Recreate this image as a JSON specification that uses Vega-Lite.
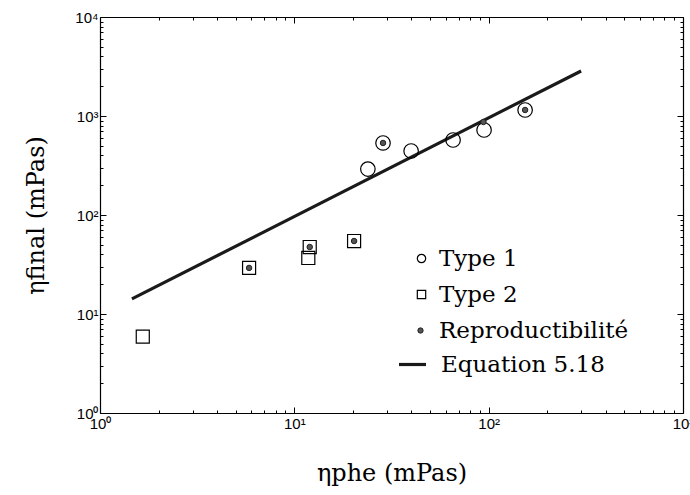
{
  "$schema": "https://vega.github.io/schema/vega-lite/v6.json",
  "width": 583,
  "height": 396,
  "autosize": "none",
  "padding": {"left": 100, "top": 17, "right": 7, "bottom": 82},
  "background": "white",
  "config": {
    "view": {"stroke": null},
    "axis": {
      "grid": false,
      "domainColor": "black",
      "domainWidth": 1.2,
      "tickColor": "black",
      "tickWidth": 1,
      "labelFont": "Liberation Sans",
      "labelFontSize": 15,
      "labelColor": "black",
      "labelOverlap": false,
      "labelFlush": false,
      "titleFont": "DejaVu Serif",
      "titleFontSize": 24,
      "titleFontWeight": "normal",
      "titleColor": "black"
    },
    "legend": {
      "orient": "none",
      "padding": 0,
      "labelFont": "DejaVu Serif",
      "labelFontSize": 23,
      "labelColor": "black",
      "labelLimit": 400,
      "title": null
    }
  },
  "datasets": {
    "pts": [
      {"serie": "Type 1", "phe": 23.9, "final": 291},
      {"serie": "Type 1", "phe": 28.6, "final": 534},
      {"serie": "Type 1", "phe": 39.9, "final": 443},
      {"serie": "Type 1", "phe": 65.6, "final": 572},
      {"serie": "Type 1", "phe": 94.7, "final": 722},
      {"serie": "Type 1", "phe": 154, "final": 1150},
      {"serie": "Type 2", "phe": 1.66, "final": 5.9},
      {"serie": "Type 2", "phe": 5.85, "final": 29.2},
      {"serie": "Type 2", "phe": 11.8, "final": 36.8},
      {"serie": "Type 2", "phe": 12.0, "final": 47.5},
      {"serie": "Type 2", "phe": 20.3, "final": 54.6},
      {"serie": "Reproductibilité", "phe": 28.6, "final": 534},
      {"serie": "Reproductibilité", "phe": 154, "final": 1150},
      {"serie": "Reproductibilité", "phe": 5.85, "final": 29.2},
      {"serie": "Reproductibilité", "phe": 12.0, "final": 47.5},
      {"serie": "Reproductibilité", "phe": 20.3, "final": 54.6},
      {"serie": "Reproductibilité", "phe": 94, "final": 870}
    ],
    "eq": [
      {"serie": "Equation 5.18", "phe": 1.46, "final": 14.2},
      {"serie": "Equation 5.18", "phe": 299, "final": 2850}
    ]
  },
  "resolve": {"axis": {"x": "independent", "y": "independent"}},
  "layer": [
    {
      "data": {"name": "eq"},
      "mark": {"type": "line", "strokeWidth": 3.2},
      "encoding": {
        "x": {
          "field": "phe", "type": "quantitative",
          "scale": {"type": "log", "domain": [1, 1000], "nice": false},
          "axis": {
            "orient": "bottom",
            "title": "ηphe (mPas)",
            "titlePadding": 27,
            "values": [1,2,3,4,5,6,7,8,9,10,20,30,40,50,60,70,80,90,100,200,300,400,500,600,700,800,900,1000],
            "labelExpr": "datum.value==1?'10⁰':datum.value==10?'10¹':datum.value==100?'10²':datum.value==1000?'10³':''",
            "labelFontSize": 15,
            "tickSize": {"condition": {"test": "datum.value==1||datum.value==10||datum.value==100||datum.value==1000", "value": -6}, "value": -3},
            "labelPadding": 9
          }
        },
        "y": {
          "field": "final", "type": "quantitative",
          "scale": {"type": "log", "domain": [1, 10000], "nice": false},
          "axis": {
            "orient": "left",
            "title": "ηfinal (mPas)",
            "titlePadding": 26,
            "values": [1,2,3,4,5,6,7,8,9,10,20,30,40,50,60,70,80,90,100,200,300,400,500,600,700,800,900,1000,2000,3000,4000,5000,6000,7000,8000,9000,10000],
            "labelExpr": "datum.value==1?'10⁰':datum.value==10?'10¹':datum.value==100?'10²':datum.value==1000?'10³':datum.value==10000?'10⁴':''",
            "labelFontSize": 15,
            "tickSize": {"condition": {"test": "datum.value==1||datum.value==10||datum.value==100||datum.value==1000||datum.value==10000", "value": -6}, "value": -3},
            "labelPadding": 8
          }
        },
        "stroke": {
          "field": "serie", "type": "nominal",
          "scale": {"domain": ["Equation 5.18"], "range": ["#1a1a1a"]},
          "legend": {
            "title": null,
            "legendX": 297,
            "legendY": 332,
            "symbolType": "stroke",
            "symbolSize": 729,
            "symbolStrokeWidth": 3.2,
            "labelOffset": 13
          }
        }
      }
    },
    {
      "data": {"name": "pts"},
      "transform": [{"filter": "datum.serie==='Type 1' || datum.serie==='Type 2'"}],
      "mark": {"type": "point", "filled": false, "stroke": "black", "strokeWidth": 1.2, "opacity": 1},
      "encoding": {
        "x": {
          "field": "phe", "type": "quantitative",
          "scale": {"type": "log", "domain": [1, 1000], "nice": false},
          "axis": {
            "orient": "top", "title": null, "labels": false,
            "values": [1,2,3,4,5,6,7,8,9,10,20,30,40,50,60,70,80,90,100,200,300,400,500,600,700,800,900,1000],
            "tickSize": {"condition": {"test": "datum.value==1||datum.value==10||datum.value==100||datum.value==1000", "value": -6}, "value": -3}
          }
        },
        "y": {
          "field": "final", "type": "quantitative",
          "scale": {"type": "log", "domain": [1, 10000], "nice": false},
          "axis": {
            "orient": "right", "title": null, "labels": false,
            "values": [1,2,3,4,5,6,7,8,9,10,20,30,40,50,60,70,80,90,100,200,300,400,500,600,700,800,900,1000,2000,3000,4000,5000,6000,7000,8000,9000,10000],
            "tickSize": {"condition": {"test": "datum.value==1||datum.value==10||datum.value==100||datum.value==1000||datum.value==10000", "value": -6}, "value": -3}
          }
        },
        "size": {"condition": {"test": "datum.serie==='Type 1'", "value": 210}, "value": 170},
        "shape": {
          "field": "serie", "type": "nominal",
          "scale": {"domain": ["Type 1", "Type 2"], "range": ["circle", "square"]},
          "legend": {
            "title": null,
            "legendX": 310,
            "legendY": 230,
            "symbolSize": 70,
            "symbolStrokeWidth": 1.2,
            "symbolStrokeColor": "black",
            "labelOffset": 6,
            "rowPadding": 12
          }
        }
      }
    },
    {
      "data": {"name": "pts"},
      "transform": [{"filter": "datum.serie==='Reproductibilité'"}],
      "mark": {"type": "point", "filled": true, "size": 30, "stroke": "#222", "strokeWidth": 1, "opacity": 1},
      "encoding": {
        "x": {"field": "phe", "type": "quantitative", "scale": {"type": "log", "domain": [1, 1000], "nice": false}, "axis": null},
        "y": {"field": "final", "type": "quantitative", "scale": {"type": "log", "domain": [1, 10000], "nice": false}, "axis": null},
        "fill": {
          "field": "serie", "type": "nominal",
          "scale": {"domain": ["Reproductibilité"], "range": ["#555555"]},
          "legend": {
            "title": null,
            "legendX": 309,
            "legendY": 302,
            "symbolType": "circle",
            "symbolSize": 28,
            "symbolStrokeColor": "#222",
            "symbolStrokeWidth": 1,
            "labelOffset": 7
          }
        }
      }
    }
  ]
}
